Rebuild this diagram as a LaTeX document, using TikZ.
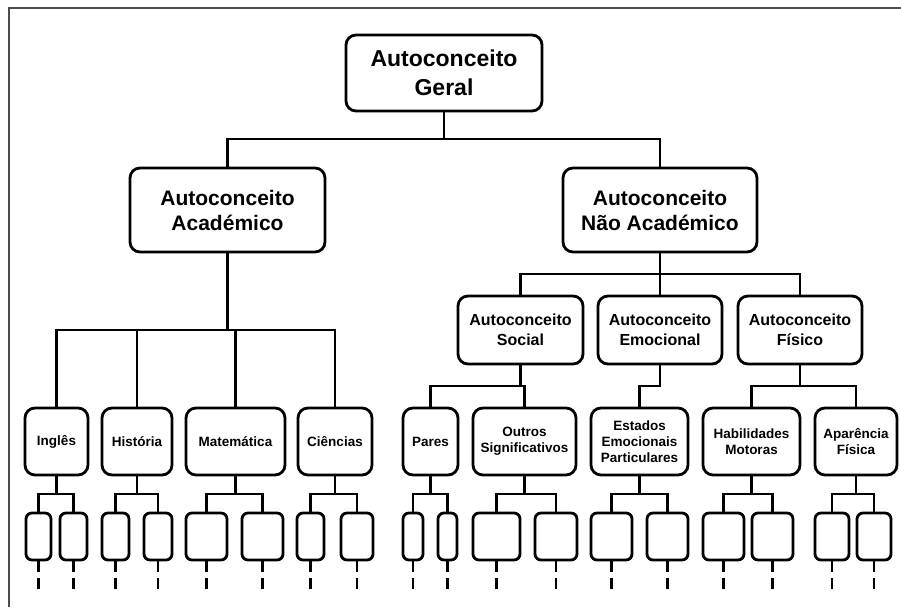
\documentclass[tikz,border=0pt]{standalone}
\usepackage{fontspec}
\setmainfont{Liberation Sans}
\begin{document}
\begin{tikzpicture}[x=1pt,y=-1pt,
  box/.style={draw, line width=2.8pt, rounded corners=10pt, align=center, inner sep=0pt},
  top/.style={box, font=\bfseries\fontsize{23}{29}\selectfont},
  lvone/.style={box, font=\bfseries\fontsize{21}{25}\selectfont, minimum height=84pt},
  lvtwo/.style={box, font=\bfseries\fontsize{16}{20}\selectfont, minimum height=68pt},
  lvthree/.style={box, font=\bfseries\fontsize{13.5}{16}\selectfont, minimum height=67pt},
  leaf/.style={draw, line width=2.8pt, rounded corners=6pt, inner sep=0pt, minimum height=47pt},
  conn/.style={line width=2.8pt},
  dsh/.style={line width=2.8pt, dash pattern=on 11pt off 6pt},
  frame/.style={line width=1.5pt, black!70}]
\useasboundingbox (0,0) rectangle (901,607);
\draw[frame] (9,607) -- (9,8) -- (901,8);

% bar heights
\coordinate (ya) at (0,139);
\coordinate (yb) at (0,330);
\coordinate (yc) at (0,274);
\coordinate (yd) at (0,386);
\coordinate (ye) at (0,494);

% top
\node[top, minimum width=196pt, minimum height=76pt] (gen) at (444,73) {Autoconceito\\Geral};
% level 1
\node[lvone, minimum width=195pt] (acad) at (227.5,210) {Autoconceito\\Académico};
\node[lvone, minimum width=194pt] (nacad) at (660,210) {Autoconceito\\Não Académico};
% level 2
\node[lvtwo, minimum width=125pt] (soc) at (520.5,330) {Autoconceito\\Social};
\node[lvtwo, minimum width=124pt] (emo) at (660,330) {Autoconceito\\Emocional};
\node[lvtwo, minimum width=124pt] (fis) at (800,330) {Autoconceito\\Físico};
% level 3
\node[lvthree, minimum width=63pt] (ing) at (56.5,441.5) {Inglês};
\node[lvthree, minimum width=70pt] (his) at (137,441.5) {História};
\node[lvthree, minimum width=99pt] (mat) at (235.5,441.5) {Matemática};
\node[lvthree, minimum width=74pt] (cie) at (335,441.5) {Ciências};
\node[lvthree, minimum width=55pt] (par) at (430.5,441.5) {Pares};
\node[lvthree, minimum width=103pt] (out) at (524.5,441.5) {Outros\\Significativos};
\node[lvthree, minimum width=97pt] (est) at (639.5,441.5) {Estados\\Emocionais\\Particulares};
\node[lvthree, minimum width=97pt] (hab) at (751.5,441.5) {Habilidades\\Motoras};
\node[lvthree, minimum width=82pt] (apa) at (856,441.5) {Aparência\\Física};
% leaves
\node[leaf, minimum width=25pt] (i1) at (38.5,536.5) {};
\node[leaf, minimum width=27pt] (i2) at (73.5,536.5) {};
\node[leaf, minimum width=27pt] (h1) at (115.5,536.5) {};
\node[leaf, minimum width=28pt] (h2) at (158,536.5) {};
\node[leaf, minimum width=41pt] (m1) at (206.5,536.5) {};
\node[leaf, minimum width=41pt] (m2) at (262.5,536.5) {};
\node[leaf, minimum width=27pt] (c1) at (310.5,536.5) {};
\node[leaf, minimum width=32pt] (c2) at (357,536.5) {};
\node[leaf, minimum width=20pt] (p1) at (413,536.5) {};
\node[leaf, minimum width=19pt] (p2) at (447.5,536.5) {};
\node[leaf, minimum width=47pt] (o1) at (496.5,536.5) {};
\node[leaf, minimum width=42pt] (o2) at (556,536.5) {};
\node[leaf, minimum width=41pt] (e1) at (611.5,536.5) {};
\node[leaf, minimum width=41pt] (e2) at (667.5,536.5) {};
\node[leaf, minimum width=41pt] (b1) at (723.5,536.5) {};
\node[leaf, minimum width=41pt] (b2) at (772.5,536.5) {};
\node[leaf, minimum width=34pt] (a1) at (832,536.5) {};
\node[leaf, minimum width=34pt] (a2) at (874,536.5) {};

% connectors: top
\draw[conn] (gen.south) -- (gen.south |- ya);
\draw[conn] (acad.north) -- (acad.north |- ya) -- (nacad.north |- ya) -- (nacad.north);
% academic
\draw[conn] (acad.south) -- (acad.south |- yb);
\draw[conn] (ing.north) -- (ing.north |- yb) -- (cie.north |- yb) -- (cie.north);
\draw[conn] (his.north) -- (his.north |- yb);
\draw[conn] (mat.north) -- (mat.north |- yb);
% non academic
\draw[conn] (nacad.south) -- (nacad.south |- yc);
\draw[conn] (soc.north) -- (soc.north |- yc) -- (fis.north |- yc) -- (fis.north);
\draw[conn] (emo.north) -- (emo.north |- yc);
% social
\draw[conn] (soc.south) -- (soc.south |- yd);
\draw[conn] (par.north) -- (par.north |- yd) -- (out.north |- yd) -- (out.north);
% emocional
\draw[conn] (emo.south) -- (emo.south |- yd) -- (est.north |- yd) -- (est.north);
% fisico
\draw[conn] (fis.south) -- (fis.south |- yd);
\draw[conn] (hab.north) -- (hab.north |- yd) -- (apa.north |- yd) -- (apa.north);

% leaf connectors
\foreach \p/\a/\b in {ing/i1/i2, his/h1/h2, mat/m1/m2, cie/c1/c2, par/p1/p2, out/o1/o2, est/e1/e2, hab/b1/b2, apa/a1/a2}{
  \draw[conn] (\p.south) -- (\p.south |- ye);
  \draw[conn] (\a.north) -- (\a.north |- ye) -- (\b.north |- ye) -- (\b.north);
}
% dashed continuations
\foreach \n in {i1,i2,h1,h2,m1,m2,c1,c2,p1,p2,o1,o2,e2,b1,b2,a1,a2}{
  \draw[dsh] (\n.south) -- ++(0,28);
}
\draw[dsh] (e1.south) -- ++(0,33);
\end{tikzpicture}
\end{document}
